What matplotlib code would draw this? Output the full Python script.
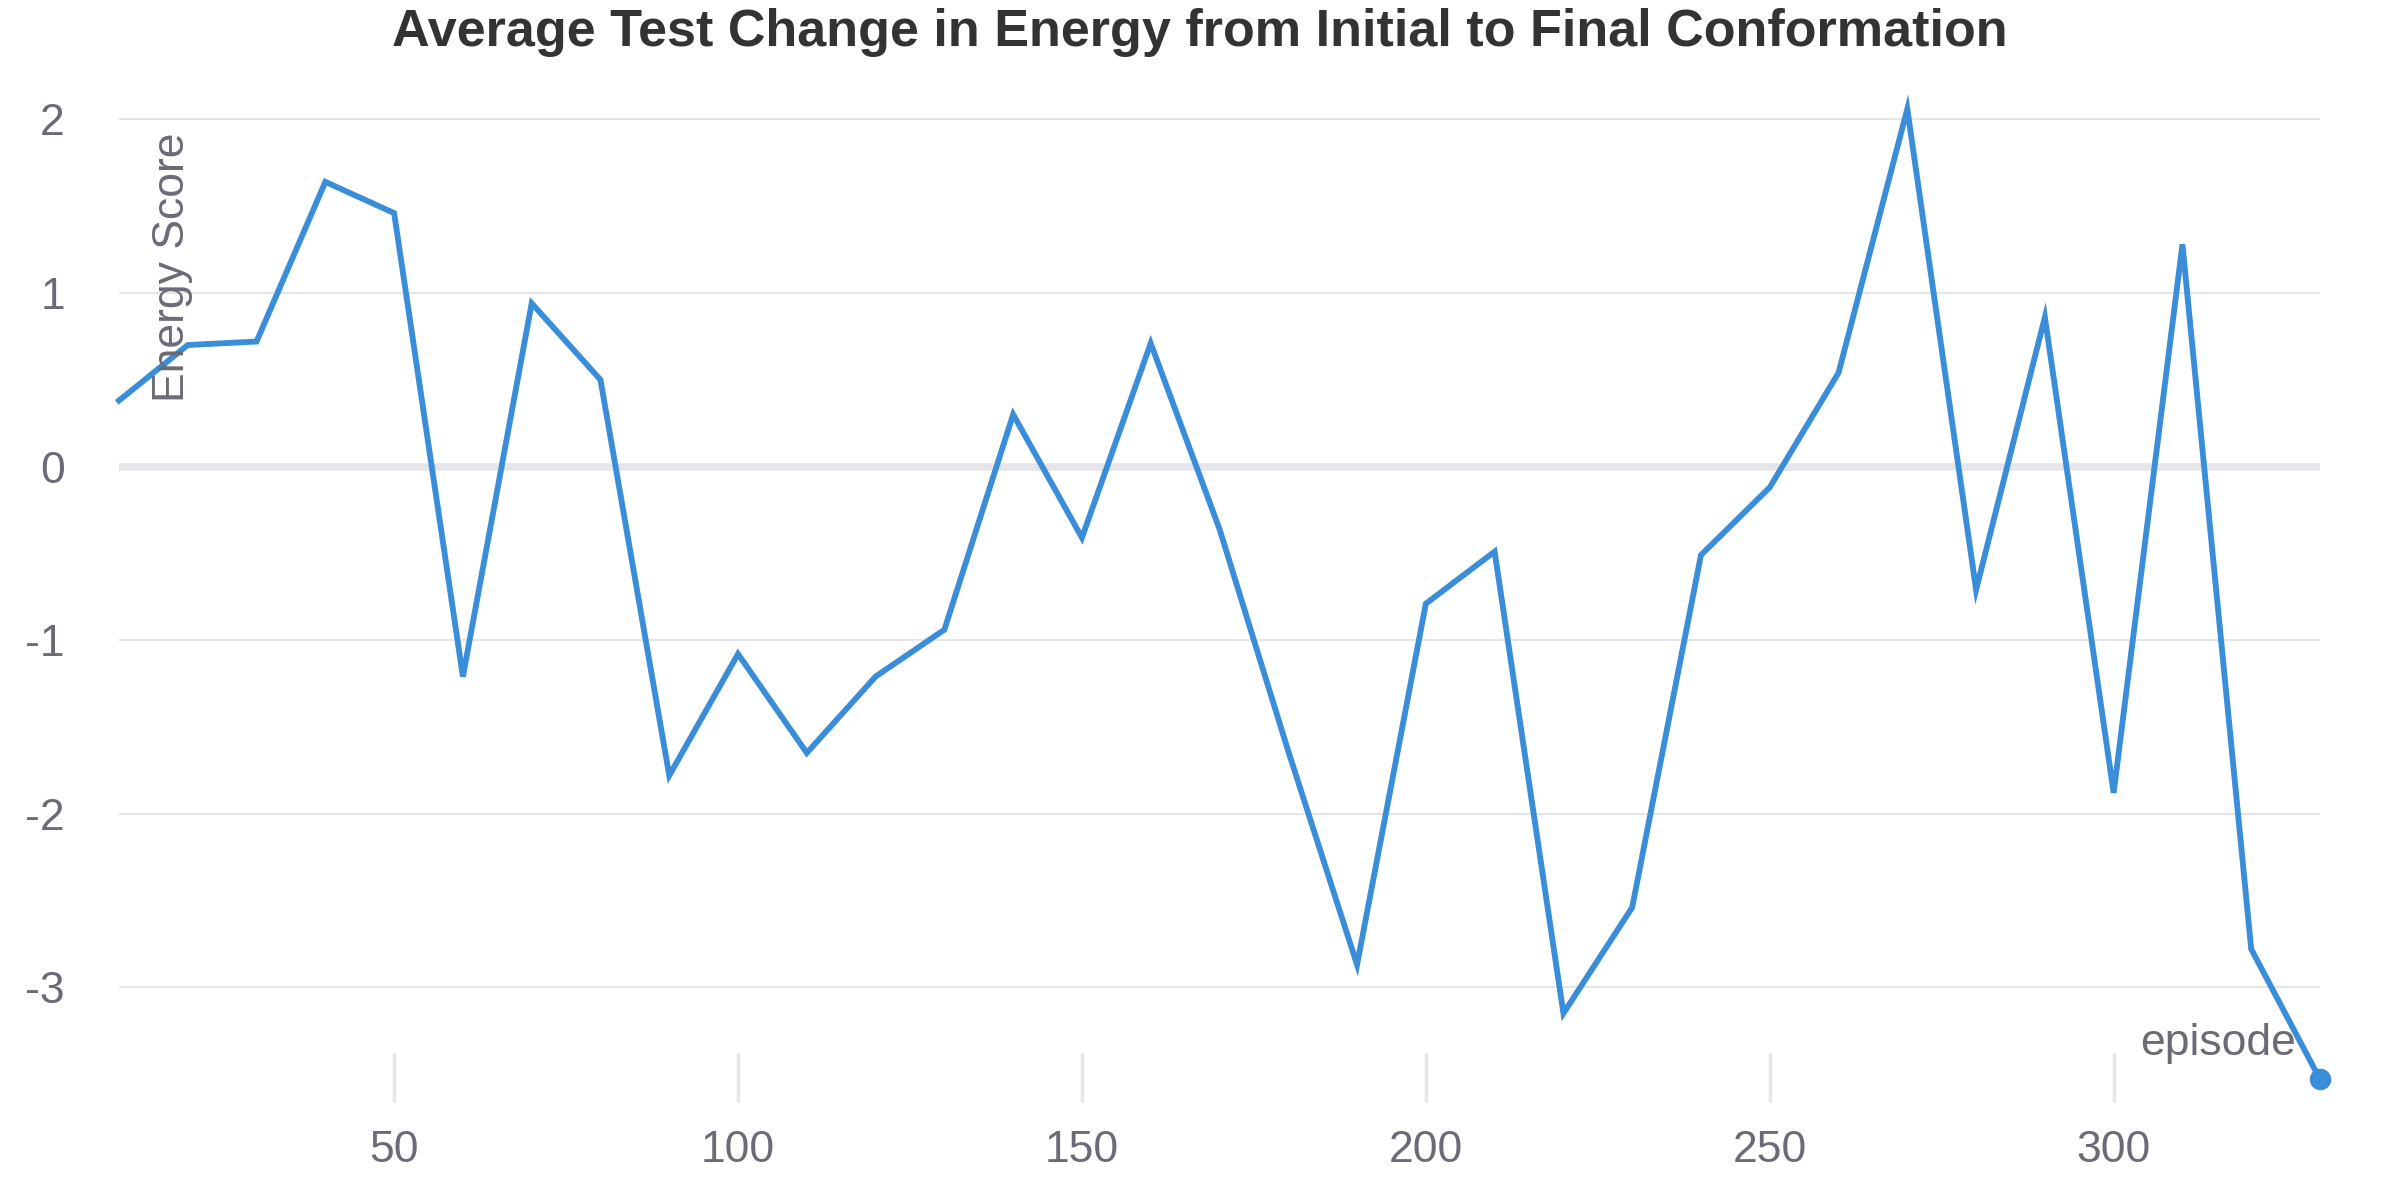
import numpy as np
import matplotlib
matplotlib.use("Agg")
import matplotlib.pyplot as plt

# episode numbers and the average energy change at each test point
episodes = list(range(10, 331, 10))
energy = [0.38, 0.70, 0.72, 1.64, 1.46, -1.21, 0.94, 0.50, -1.78, -1.08,
          -1.65, -1.21, -0.94, 0.30, -0.41, 0.71, -0.36, -1.64, -2.87, -0.79,
          -0.49, -3.15, -2.54, -0.51, -0.12, 0.54, 2.06, -0.71, 0.86, -1.88,
          1.28, -2.78, -3.53]
yticks = [-3, -2, -1, 0, 1, 2]
xticks = [50, 100, 150, 200, 250, 300]

plt.rcParams['font.family'] = ['Liberation Sans', 'DejaVu Sans']

line_col = '#3a8dd8'
text_col = '#6b6b76'
grid_col = '#e6e6ea'

fig = plt.figure(figsize=(24, 12), dpi=100)
ax = fig.add_axes([119 / 2400, 1 - 1102 / 1200, 2201 / 2400, 1000 / 1200])

ax.plot(episodes, energy, color=line_col, lw=4.2, solid_joinstyle='miter', clip_on=False, zorder=3)
ax.plot(episodes[-1:], energy[-1:], 'o', color=line_col, ms=14.5, clip_on=False, zorder=4)

ax.set_xlim(10, 330)
ax.set_ylim(-3.661, 2.1)

for v in yticks:
    if v == 0:
        ax.axhline(v, color=grid_col, lw=5.5, zorder=1)
    else:
        ax.axhline(v, color=grid_col, lw=1.5, zorder=1)

ax.set_yticks(yticks)
ax.set_yticklabels([str(v) for v in yticks])
ax.set_xticks(xticks)
ax.set_xticklabels([str(v) for v in xticks])
ax.tick_params(axis='y', length=0, pad=39, labelsize=32, labelcolor=text_col)
ax.tick_params(axis='x', direction='in', length=35, width=2.4, color=grid_col,
               pad=20, labelsize=32, labelcolor=text_col)
for sp in ax.spines.values():
    sp.set_visible(False)

ax.text(0.0245, 0.969, 'Energy Score', transform=ax.transAxes, rotation=90,
        ha='center', va='top', fontsize=32, color=text_col)
ax.text(0.989, 0.047, 'episode', transform=ax.transAxes, ha='right',
        va='baseline', fontsize=32, color=text_col)

fig.text(0.5, 1 - 46 / 1200, 'Average Test Change in Energy from Initial to Final Conformation',
         ha='center', va='baseline', fontsize=37.5, fontweight='bold', color='#333333')

fig.savefig('out.png', dpi=100, facecolor='white')
